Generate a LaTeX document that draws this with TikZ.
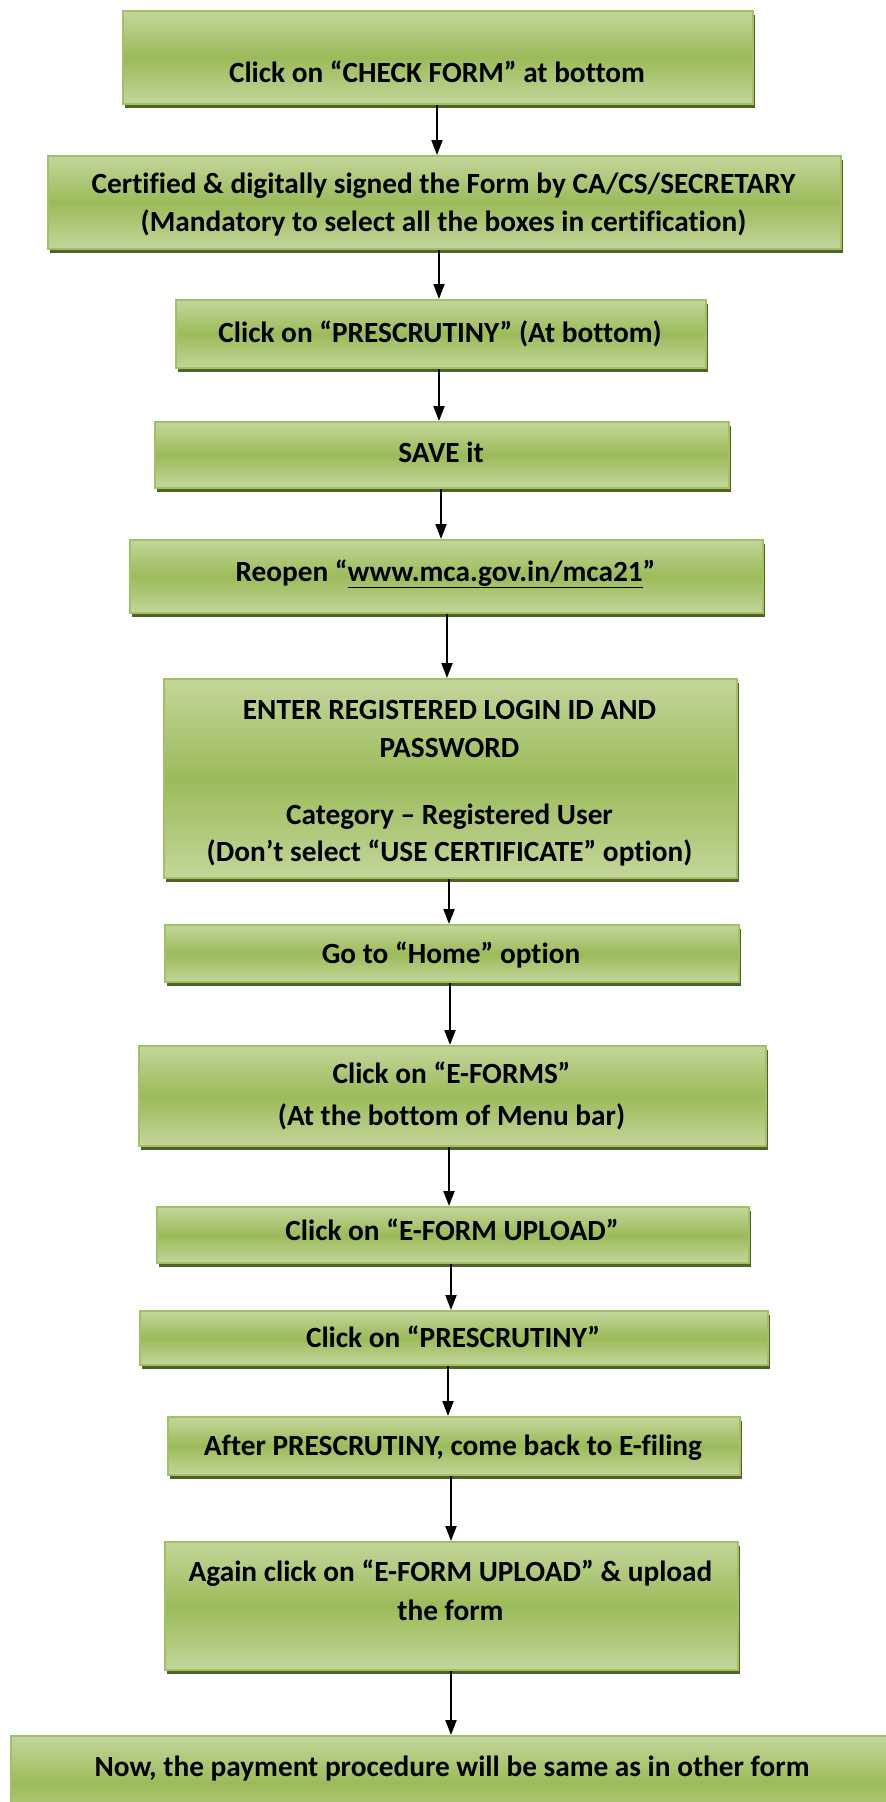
\documentclass[tikz,border=0pt]{standalone}
\usepackage{fontspec}
\setmainfont{Carlito}[Ligatures=NoCommon]
\usetikzlibrary{arrows.meta}
\definecolor{boxlight}{HTML}{C3D69B}
\definecolor{boxmid}{HTML}{9BBB59}
\definecolor{boxedge}{HTML}{A2C064}
\definecolor{boxshadow}{HTML}{4F6228}
\tikzset{
  flowbox/.style={draw=boxedge, line width=2pt, top color=boxlight, bottom color=boxlight, middle color=boxmid, inner sep=0pt, anchor=north west},
  flowtext/.style={font=\fontsize{29.3}{35}\selectfont\bfseries, anchor=base, inner sep=0pt, text=black},
  flowarrow/.style={line width=2pt, -{Triangle[length=15pt,width=11pt]}},
}
\newcommand\flowstep[5]{%
  \fill[boxshadow] (#2+3,#3+5) rectangle (#4+3,#5+5);
  \node[flowbox, minimum width={#4-#2}, minimum height={#5-#3}] (#1) at (#2,#3) {};
}
\begin{document}
\begin{tikzpicture}[x=1pt,y=-1pt]
\useasboundingbox (0,0) rectangle (886,1802);
\clip (0,0) rectangle (886,1802);
\fill[white] (0,0) rectangle (886,1802);

\flowstep{b1}{122}{10}{752}{103}
\flowstep{b2}{47}{155}{840}{248}
\flowstep{b3}{175}{299}{705}{367}
\flowstep{b4}{154}{421}{728}{487}
\flowstep{b5}{129}{539}{762}{612}
\flowstep{b6}{163}{678}{736}{877}
\flowstep{b7}{164}{924}{738}{981}
\flowstep{b8}{138}{1045}{765}{1145}
\flowstep{b9}{156}{1206}{748}{1262}
\flowstep{b10}{139}{1310}{767}{1364}
\flowstep{b11}{167}{1416}{739}{1474}
\flowstep{b12}{164}{1541}{737}{1669}
\flowstep{b13}{10}{1735}{992}{1830}

\node[flowtext] (t1) at (437,82) {Click on “CHECK FORM” at bottom};
\node[flowtext] (t2a) at (443.5,193) {Certified \& digitally signed the Form by CA/CS/SECRETARY};
\node[flowtext] (t2b) at (443.5,231) {(Mandatory to select all the boxes in certification)};
\node[flowtext] (t3) at (440,342) {Click on “PRESCRUTINY” (At bottom)};
\node[flowtext] (t4) at (441,462) {SAVE it};
\node[flowtext] (t5) at (445.5,581) {Reopen “\underline{www.mca.gov.in/mca21}”};
\node[flowtext] (t6a) at (449.5,719) {ENTER REGISTERED LOGIN ID AND};
\node[flowtext] (t6b) at (449.5,757) {PASSWORD};
\node[flowtext] (t6c) at (449.5,824) {Category – Registered User};
\node[flowtext] (t6d) at (449.5,861) {(Don’t select “USE CERTIFICATE” option)};
\node[flowtext] (t7) at (451,963) {Go to “Home” option};
\node[flowtext] (t8a) at (451.5,1083) {Click on “E-FORMS”};
\node[flowtext] (t8b) at (451.5,1125) {(At the bottom of Menu bar)};
\node[flowtext] (t9) at (452,1240) {Click on “E-FORM UPLOAD”};
\node[flowtext] (t10) at (453,1347) {Click on “PRESCRUTINY”};
\node[flowtext] (t11) at (453,1455) {After PRESCRUTINY, come back to E-filing};
\node[flowtext] (t12a) at (450.5,1581) {Again click on “E-FORM UPLOAD” \& upload};
\node[flowtext] (t12b) at (450.5,1620) {the form};
\node[flowtext] (t13) at (452,1776) {Now, the payment procedure will be same as in other form};

\coordinate (a1) at (437,0);
\coordinate (a2) at (439,0);
\coordinate (a3) at (439,0);
\coordinate (a4) at (441,0);
\coordinate (a5) at (447,0);
\coordinate (a6) at (449,0);
\coordinate (a7) at (450,0);
\coordinate (a8) at (449,0);
\coordinate (a9) at (451,0);
\coordinate (a10) at (448,0);
\coordinate (a11) at (451,0);
\coordinate (a12) at (451,0);

\draw[flowarrow] (b1.south -| a1) -- (b2.north -| a1);
\draw[flowarrow] (b2.south -| a2) -- (b3.north -| a2);
\draw[flowarrow] (b3.south -| a3) -- (b4.north -| a3);
\draw[flowarrow] (b4.south -| a4) -- (b5.north -| a4);
\draw[flowarrow] (b5.south -| a5) -- (b6.north -| a5);
\draw[flowarrow] (b6.south -| a6) -- (b7.north -| a6);
\draw[flowarrow] (b7.south -| a7) -- (b8.north -| a7);
\draw[flowarrow] (b8.south -| a8) -- (b9.north -| a8);
\draw[flowarrow] (b9.south -| a9) -- (b10.north -| a9);
\draw[flowarrow] (b10.south -| a10) -- (b11.north -| a10);
\draw[flowarrow] (b11.south -| a11) -- (b12.north -| a11);
\draw[flowarrow] (b12.south -| a12) -- (b13.north -| a12);
\end{tikzpicture}
\end{document}
